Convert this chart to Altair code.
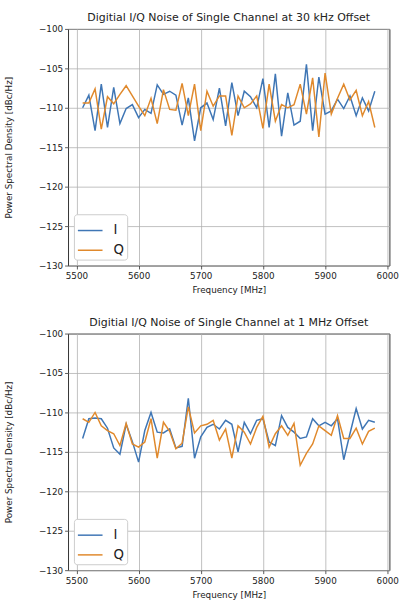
import altair as alt
import pandas as pd

FREQ_MHZ = list(range(5510, 5990, 10))

I_30KHZ = [-110, -108.4, -112.9, -107, -112.5, -107.4, -112, -110.1, -109.6, -111.25,
           -110.2, -110.7, -107.1, -108.3, -107.9, -108.4, -112.2, -108.75, -114.2, -110,
           -109.4, -111.5, -107.5, -112.3, -106.8, -111, -107.9, -108.6, -110, -106.3,
           -112.5, -105.7, -113.6, -108.1, -112.2, -111.7, -104.5, -112.9, -106.1, -110.8,
           -110.4, -108.9, -110.1, -108.5, -111, -108.75, -110.4, -107.9]
Q_30KHZ = [-109.4, -109.4, -107.6, -112.7, -108.6, -109.5, -108.3, -107.2, -108.5, -109.8,
           -111, -108.8, -112, -107.7, -110.2, -110.3, -106.9, -111, -107, -112.9,
           -107.9, -109.8, -108.5, -108.5, -113.5, -108.5, -110, -109.5, -108.5, -112.6,
           -107, -111.7, -109.6, -110, -109.6, -107, -110.8, -106.2, -113.7, -105.6,
           -110.8, -108.8, -107, -109, -107.8, -111, -109.2, -112.5]
I_1MHZ = [-113.3, -110.8, -110.7, -110.8, -112, -114.5, -115.3, -111.5, -113.7, -116.3,
          -112.3, -110, -112.5, -112.6, -112.1, -114.5, -114.3, -108.2, -115.8, -113.1,
          -111.9, -111.5, -112.1, -111, -111.5, -115, -111.25, -112.7, -111, -110.8,
          -113.75, -114.2, -110.4, -111.9, -112.5, -113.3, -113.1, -110.8, -111.7, -111.25,
          -111.7, -110.8, -116, -112.7, -109.5, -112.1, -111, -111.25]
Q_1MHZ = [-110.8, -111.25, -110, -111.7, -112.3, -112.7, -114.2, -111.4, -114, -114.4,
          -113.75, -110.8, -115.8, -111.25, -112.4, -114.6, -113.9, -109.3, -112.6, -111.7,
          -111.5, -111, -113.5, -112.1, -115.8, -111.7, -112.5, -114, -111.9, -110.5,
          -114.4, -112.7, -111.7, -112.9, -111.4, -116.7, -115.2, -114, -111.7, -112.3,
          -112.9, -110.4, -113.3, -113.3, -112, -114, -112.4, -112]

SERIES = ["I", "Q"]
COLORS = ["#3f76b5", "#e0892c"]
X_TICKS = [5500, 5600, 5700, 5800, 5900, 6000]
Y_TICKS = [-130, -125, -120, -115, -110, -105, -100]
TITLES = ["Digitial I/Q Noise of Single Channel at 30 kHz Offset",
          "Digitial I/Q Noise of Single Channel at 1 MHz Offset"]


def frame(i_vals, q_vals):
    rows = []
    for f, v in zip(FREQ_MHZ, i_vals):
        rows.append({"freq": f, "psd": v, "series": "I"})
    for f, v in zip(FREQ_MHZ, q_vals):
        rows.append({"freq": f, "psd": v, "series": "Q"})
    return pd.DataFrame(rows)


FONT = "DejaVu Sans"


def panel(df, title):
    return alt.Chart(df, title=alt.TitleParams(
        title, fontSize=11.1, font=FONT, fontWeight="normal", color="#222222",
        anchor="middle", offset=1.5)).mark_line(strokeWidth=1.5, clip=True).encode(
        x=alt.X("freq:Q",
                scale=alt.Scale(domain=[5486.5, 6003.5], nice=False, zero=False),
                axis=alt.Axis(values=X_TICKS, title="Frequency [MHz]", format="d",
                              labelFlush=False, labelPadding=3,
                              titleX=163, titleY=24.5, titleBaseline="middle")),
        y=alt.Y("psd:Q",
                scale=alt.Scale(domain=[-130, -100], nice=False, zero=False),
                axis=alt.Axis(values=Y_TICKS, title="Power Spectral Density [dBc/Hz]",
                              labelExpr="replace(datum.label, '-', '\u2212')",
                              labelFlush=False,
                              titleX=-60, titleY=120, titleAngle=-90,
                              titleAlign="center", titleBaseline="middle")),
        color=alt.Color("series:N",
                        scale=alt.Scale(domain=SERIES, range=COLORS),
                        legend=alt.Legend(title=None, orient="bottom-left", offset=6,
                                          symbolType="stroke", symbolSize=625,
                                          symbolStrokeWidth=1.5, labelFontSize=13.5,
                                          labelFont=FONT, labelColor="#222222",
                                          labelOffset=10, rowPadding=-7, padding=3,
                                          fillColor="white", strokeColor="#cccccc",
                                          cornerRadius=3)),
    ).properties(width=326, height=240)


top = panel(frame(I_30KHZ, Q_30KHZ), TITLES[0])
bottom = panel(frame(I_1MHZ, Q_1MHZ), TITLES[1])

chart = alt.vconcat(top, bottom, spacing=69, bounds="flush").resolve_legend(
    color="independent"
).properties(
    padding={"left": 4, "top": 7, "right": 20, "bottom": 1},
    background="white",
).configure_view(
    stroke="#333333", strokeWidth=1
).configure_axis(
    labelFont=FONT, labelFontSize=8.9, labelColor="#222222",
    titleFont=FONT, titleFontSize=8.9, titleColor="#222222", titleFontWeight="normal",
    tickColor="#333333", tickSize=3.5, tickWidth=0.8, labelPadding=2,
    gridColor="#b0b0b0", gridWidth=0.8, domain=False,
)

chart.save("out.html", embed_options={"renderer": "svg", "actions": False})
